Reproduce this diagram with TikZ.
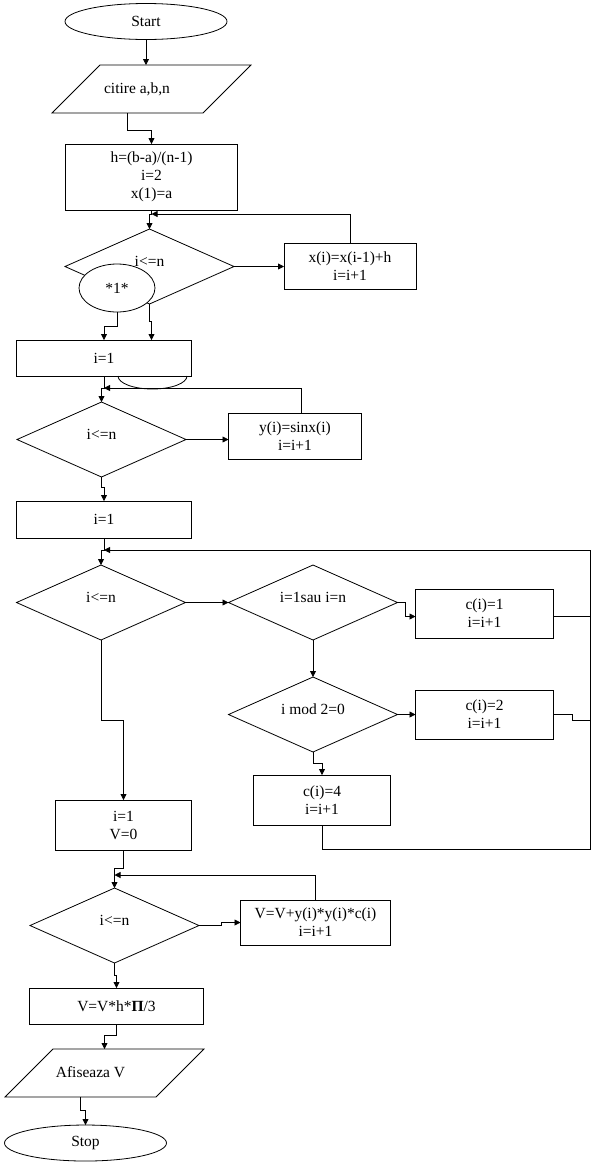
\documentclass[tikz,border=0pt]{standalone}
\usepackage{fontspec}
\setmainfont{Liberation Serif}
\usetikzlibrary{arrows.meta, positioning, shapes.geometric}
\newcommand{\flowfont}{\fontsize{15.5}{18}\selectfont}

\begin{document}
\begin{tikzpicture}[
  x=1pt, y=-1pt, line width=0.8pt,
  terminal/.style={ellipse, draw, inner sep=0pt, outer sep=0pt, minimum width=162pt, minimum height=36pt, font=\flowfont},
  onpage/.style={ellipse, draw, fill=white, inner sep=0pt, outer sep=0pt, minimum width=76pt, minimum height=48pt, font=\flowfont},
  io/.style={trapezium, trapezium left angle=45, trapezium right angle=135, trapezium stretches body, draw, inner sep=0pt, outer sep=0pt, text height=28pt, text depth=20pt, minimum width=199pt, font=\flowfont},
  box/.style={rectangle, draw, inner sep=0pt, outer sep=0pt, align=center, font=\flowfont},
  decision/.style={diamond, draw, aspect=2.25, inner sep=0pt, outer sep=0pt, minimum width=169pt, minimum height=75pt, text height=9pt, text depth=9pt, font=\flowfont},
  arrow/.style={-{Triangle[length=6pt, width=6pt]}}
]
  \useasboundingbox (0,0) rectangle (591,1165);

  \node[terminal] (start) at (146,21.5) {Start};
  \node[io, below=25.5pt of start, xshift=5.5pt] (read) {citire a,b,n\hspace*{29pt}};
  \node[box, minimum width=172pt, minimum height=66pt, below=31pt of read] (init) {h=(b-a)/(n-1)\\i=2\\x(1)=a};
  \node[decision, below=19pt of init, xshift=-2pt] (testx) {i<=n};
  \node[box, minimum width=132pt, minimum height=46pt, right=50pt of testx] (stepx) {x(i)=x(i-1)+h\\i=i+1};
  \node[onpage] (note) at (117,288) {*1*};
  \node[box, minimum width=175pt, minimum height=36pt, below=36pt of testx, xshift=-45.5pt] (seti) {i=1};
  \node[decision, below=26pt of seti, xshift=-2.5pt] (testy) {i<=n};
  \node[box, minimum width=133pt, minimum height=46pt, right=42.5pt of testy, yshift=3.5pt] (stepy) {y(i)=sinx(i)\\i=i+1};
  \node[box, minimum width=175pt, minimum height=37pt, below=24pt of testy, xshift=2.5pt] (setj) {i=1};
  \node[decision, below=27pt of setj, xshift=-3pt] (testc) {i<=n};
  \node[decision, right=43pt of testc] (ends) {i=1sau i=n};
  \node[box, minimum width=138pt, minimum height=49pt, right=18pt of ends, yshift=-11pt] (cone) {c(i)=1\\i=i+1};
  \node[decision, below=37pt of ends] (parity) {i mod 2=0};
  \node[box, minimum width=138pt, minimum height=49pt, right=18pt of parity] (ctwo) {c(i)=2\\i=i+1};
  \node[box, minimum width=137pt, minimum height=50pt, below=23pt of parity, xshift=9pt] (cfour) {c(i)=4\\i=i+1};
  \node[box, minimum width=136pt, minimum height=50pt, below=160pt of testc, xshift=22.5pt] (initv) {i=1\\V=0};
  \node[decision, below=38pt of initv, xshift=-9pt] (testv) {i<=n};
  \node[box, minimum width=150pt, minimum height=45pt, right=41.5pt of testv, yshift=3pt] (stepv) {V=V+y(i)*y(i)*c(i)\\i=i+1};
  \node[box, minimum width=174pt, minimum height=36pt, below=25pt of testv, xshift=2pt] (volume) {V=V*h*\textbf{Π}/3};
  \node[io, below=25pt of volume, xshift=-12pt] (show) {Afiseaza V\hspace*{28pt}};
  \node[terminal, below=28pt of show, xshift=-19pt] (stop) {Stop};
  \coordinate (rail) at (590,849);

  \draw[arrow] (start.south) -- (start.south |- read.north);
  \draw[arrow] (read.bottom side) -- ++(0,17) -| (init.north);
  \draw[arrow] (init.south) -- ++(0,4) -| (testx.north);
  \draw[arrow] (testx.east) -- (stepx.west);
  \draw[arrow] (stepx.north) |- ([yshift=-4pt]init.south);
  \draw[arrow] (note.south) -- ++(0,14) -| (seti.north);
  \draw[arrow] (testx.south) -- ++(0,17) -| ([xshift=47.5pt]seti.north);
  \draw ([xshift=14pt]seti.south) arc[start angle=180, end angle=360, x radius=34.5pt, y radius=13pt];
  \draw[arrow] (seti.south) -- ++(0,12) -| (testy.north);
  \draw[arrow] ([xshift=6pt]stepy.north) |- ([yshift=-12pt]seti.south);
  \draw[arrow] (testy.east) -- (testy.east -| stepy.west);
  \draw[arrow] (testy.south) -- ++(0,10) -| (setj.north);
  \draw[arrow] (setj.south) -- ++(0,12) -| (testc.north);
  \draw[arrow] (testc.east) -- (ends.west);
  \draw[arrow] (ends.east) -- ++(8,0) |- ([yshift=-3pt]cone.west);
  \draw[arrow] (ends.south) -- (parity.north);
  \draw[arrow] (parity.east) -- (ctwo.west);
  \draw[arrow] (parity.south) -- ++(0,11) -| (cfour.north);
  \draw[arrow] (cfour.south) |- (rail) |- ([yshift=-12pt]setj.south);
  \draw ([yshift=-3pt]cone.east) -| (rail);
  \draw (ctwo.east) -- ++(19,0) -- ++(0,6) -| (rail);
  \draw[arrow] (testc.south) -- ++(0,80) -| (initv.north);
  \draw[arrow] (initv.south) -- ++(0,18) -| (testv.north);
  \draw[arrow] (stepv.north) |- ([yshift=13pt]testv.north);
  \draw[arrow] (testv.east) -- ++(22,0) |- (stepv.west);
  \draw[arrow] (testv.south) -- ++(0,12) -| (volume.north);
  \draw[arrow] (volume.south) -- ++(0,11) -| (show.north);
  \draw[arrow] (show.bottom side) -- ++(0,13) -| (stop.north);
\end{tikzpicture}
\end{document}
